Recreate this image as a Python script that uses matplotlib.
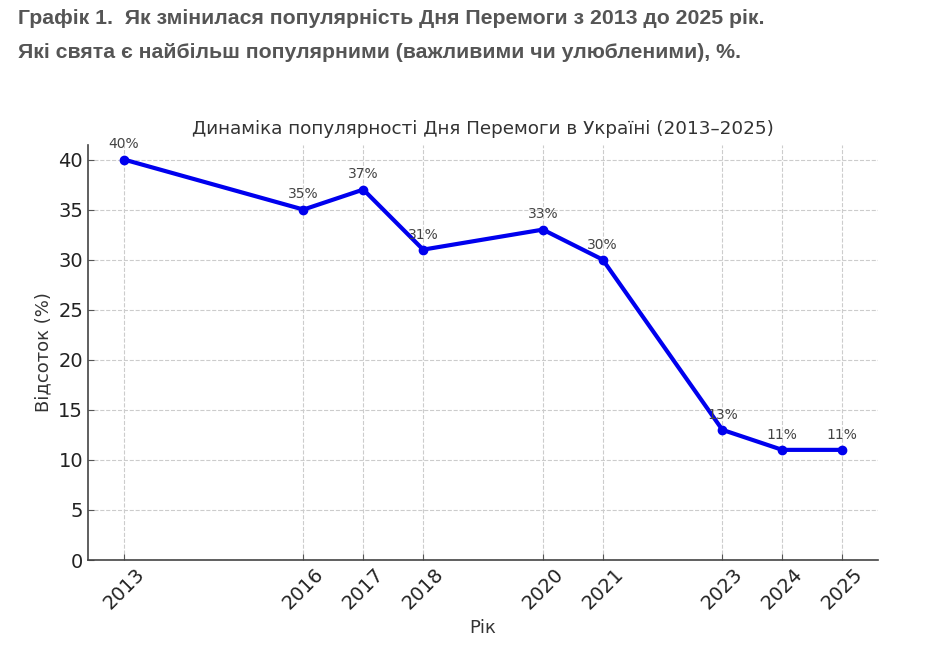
import matplotlib.pyplot as plt

# --- Дані ---
years = [2013, 2016, 2017, 2018, 2020, 2021, 2023, 2024, 2025]
values = [40, 35, 37, 31, 33, 30, 13, 11, 11]

header1 = "Графік 1.  Як змінилася популярність Дня Перемоги з 2013 до 2025 рік."
header2 = "Які свята є найбільш популярними (важливими чи улюбленими), %."

fig = plt.figure(figsize=(9.42, 6.52), dpi=100)
fig.text(18 / 942, 1 - 19 / 652, header1, fontsize=15.3, fontweight='bold',
         family='Liberation Sans', color='#555555', va='center', ha='left')
fig.text(18 / 942, 1 - 52 / 652, header2, fontsize=15.3, fontweight='bold',
         family='Liberation Sans', color='#555555', va='center', ha='left')

ax = fig.add_axes([88 / 942, 1 - 560 / 652, (878 - 88) / 942, (560 - 145) / 652])
ax.plot(years, values, color='#0000ee', linewidth=3, marker='o', markersize=6)

for x, y in zip(years, values):
    ax.annotate(f"{y}%", (x, y), xytext=(0, 8), textcoords='offset points',
                ha='center', fontsize=10, color='#444444')

ax.set_ylim(0, 41.45)
ax.set_xlim(2012.4, 2025.6)
ax.set_xticks(years)
ax.set_xticklabels([str(y) for y in years], rotation=45)
ax.tick_params(axis='both', direction='in', length=4, labelsize=14,
               labelcolor='#222222', color='#555555')
ax.set_title('Динаміка популярності Дня Перемоги в Україні (2013–2025)',
             fontsize=13.2, color='#333333', pad=8)
ax.set_xlabel('Рік', fontsize=13, color='#333333')
ax.set_ylabel('Відсоток (%)', fontsize=13, color='#333333')
ax.grid(True, linestyle='--', color='#cccccc', linewidth=0.8)
for s in ['top', 'right']:
    ax.spines[s].set_visible(False)
for s in ['left', 'bottom']:
    ax.spines[s].set_color('#444444')
    ax.spines[s].set_linewidth(1.2)

fig.savefig('out.png', dpi=100)
